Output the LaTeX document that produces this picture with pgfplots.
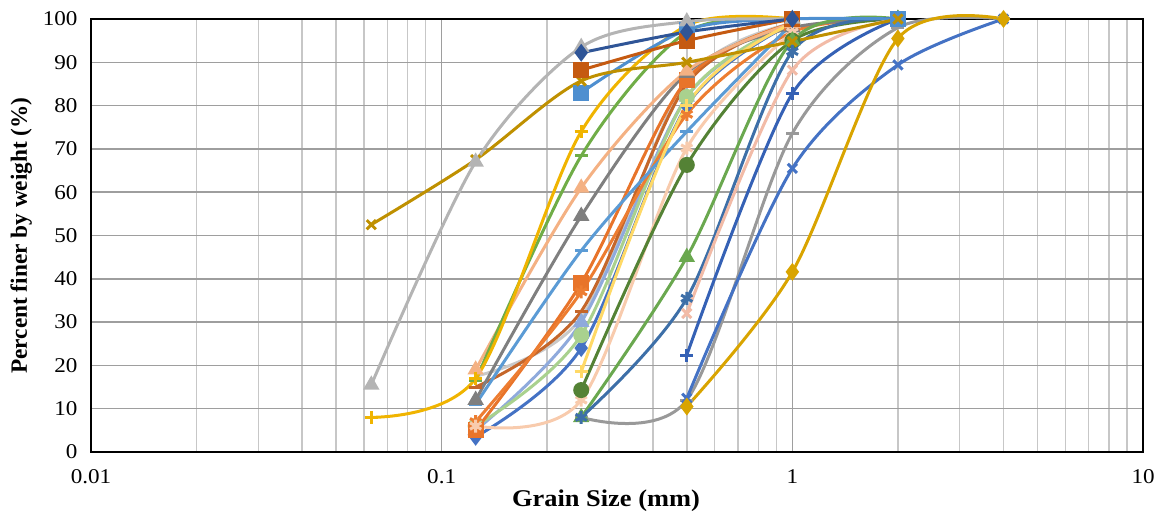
\documentclass[border=0pt]{standalone}
\usepackage{pgfplots}
\pgfplotsset{compat=1.18}
\usepackage{fontspec}
\setmainfont{Liberation Serif}
\newfontfamily\wideserif[FakeStretch=1.1]{Liberation Serif}
\definecolor{cA}{HTML}{B4B4B4}
\definecolor{cB}{HTML}{BF9000}
\definecolor{cC}{HTML}{2F5597}
\definecolor{cD}{HTML}{C55A11}
\definecolor{cE}{HTML}{4E8FD0}
\definecolor{cF}{HTML}{F0B400}
\definecolor{cG}{HTML}{70AD47}
\definecolor{cH}{HTML}{F4B183}
\definecolor{cI}{HTML}{7F7F7F}
\definecolor{cJ}{HTML}{5B9BD5}
\definecolor{cK}{HTML}{ED7D31}
\definecolor{cL}{HTML}{E8742A}
\definecolor{cM}{HTML}{C5662A}
\definecolor{cN}{HTML}{8FAADC}
\definecolor{cO}{HTML}{A9D18E}
\definecolor{cP}{HTML}{FFD966}
\definecolor{cQ}{HTML}{548235}
\definecolor{cR}{HTML}{F8CBAD}
\definecolor{cS}{HTML}{999999}
\definecolor{cT}{HTML}{6AA84F}
\definecolor{cU}{HTML}{3D6FA8}
\definecolor{cV}{HTML}{F2BBA7}
\definecolor{cW}{HTML}{3561B5}
\definecolor{cX}{HTML}{4472C4}
\definecolor{cY}{HTML}{D9A400}
\definecolor{cZ}{HTML}{4472C4}
\definecolor{cG2}{HTML}{C9C9C9}
\begin{document}
\begin{tikzpicture}
\begin{axis}[
  scale only axis, width=1052pt, height=433pt,
  xmode=log, xmin=0.01, xmax=10, ymin=0, ymax=100,
  xtick={0.01,0.1,1,10}, xticklabels={0.01,0.1,1,10},
  ytick={0,10,...,100},
  grid=both,
  major grid style={color=black!38, line width=1.5pt},
  minor grid style={color=black!22, line width=1.5pt},
  major tick length=0pt, minor tick length=0pt,
  axis line style={line width=2.8pt},
  tick label style={font=\wideserif\fontsize{21}{24}\selectfont},
  /pgf/number format/assume math mode=true,
  yticklabel style={xshift=-10pt},
  xticklabel style={yshift=-14pt},
  xlabel={\wideserif\bfseries Grain Size (mm)},
  ylabel={\bfseries Percent finer by weight (\%)},
  xlabel style={font=\wideserif\fontsize{24}{28}\selectfont\bfseries, yshift=1pt, xshift=-11pt},
  ylabel style={font=\fontsize{23.3}{27}\selectfont\bfseries, yshift=4pt},
  every axis plot/.append style={line width=3pt, smooth, tension=0.5, mark size=6.5pt},
  clip=false,
]
% light gray 2
\addplot[color=cG2, mark=none] coordinates {(0.125,17.5)(0.25,31)(0.5,86)(1,99)};
% lavender
\addplot[color=cN, mark=triangle*, mark options={fill=cN}] coordinates {(0.125,5)(0.25,30)(0.5,82)(1,99)};
% blue diamond low
\addplot[color=cZ, mark=diamond*, mark options={fill=cZ}] coordinates {(0.125,3.5)(0.25,24)(0.5,80)(1,99)};
% light green circle
\addplot[color=cO, mark=*, mark options={fill=cO}] coordinates {(0.125,6)(0.25,27)(0.5,82)(1,99)};
% brown dash
\addplot[color=cM, mark=-, mark options={solid}] coordinates {(0.125,15)(0.25,32.5)(0.5,85)(1,99)};
% orange square
\addplot[color=cL, mark=square*, mark options={fill=cL}] coordinates {(0.125,5)(0.25,39)(0.5,86)(1,99)};
% orange star
\addplot[color=cK, mark=asterisk, mark options={solid}] coordinates {(0.125,7)(0.25,37)(0.5,78)(1,97)(2,100)};
% light blue dash
\addplot[color=cJ, mark=-, mark options={solid}] coordinates {(0.125,11)(0.25,46.5)(0.5,74)(1,99)};
% dark gray triangle
\addplot[color=cI, mark=triangle*, mark options={fill=cI}] coordinates {(0.125,12)(0.25,54.5)(0.5,87.5)(1,98)(2,100)};
% salmon
\addplot[color=cH, mark=triangle*, mark options={fill=cH}] coordinates {(0.125,19)(0.25,61)(0.5,88)(1,99)};
% green dash
\addplot[color=cG, mark=-, mark options={solid}] coordinates {(0.125,16.5)(0.25,68.4)(0.5,97)(1,100)};
% gold plus
\addplot[color=cF, mark=+, mark options={solid}] coordinates {(0.063,8)(0.125,17)(0.25,74)(0.5,98.5)(1,100)};
% light gold plus
\addplot[color=cP, mark=+, mark options={solid}] coordinates {(0.25,18.5)(0.5,80)(1,99)};
% peach star
\addplot[color=cR, mark=asterisk, mark options={solid}] coordinates {(0.125,6)(0.25,12)(0.5,70.2)(1,97)};
% dark green circle
\addplot[color=cQ, mark=*, mark options={fill=cQ}] coordinates {(0.25,14.3)(0.5,66.3)(1,95)(2,100)};
% gray dash
\addplot[color=cS, mark=-, mark options={solid}] coordinates {(0.25,8)(0.5,12)(1,73.6)(2,98)(4,100)};
% green triangle
\addplot[color=cT, mark=triangle*, mark options={fill=cT}] coordinates {(0.25,8)(0.5,45)(1,95)(2,100)};
% steel blue star
\addplot[color=cU, mark=asterisk, mark options={solid}] coordinates {(0.25,8)(0.5,35.5)(1,92.5)(2,100)};
% salmon X
\addplot[color=cV, mark=x, mark options={solid}] coordinates {(0.5,32)(1,88.2)(2,100)};
% blue plus
\addplot[color=cW, mark=+, mark options={solid}] coordinates {(0.5,22.4)(1,82.8)(2,100)};
% blue X
\addplot[color=cX, mark=x, mark options={solid}] coordinates {(0.5,12.4)(1,65.5)(2,89.4)(4,100)};
% gold diamond
\addplot[color=cY, mark=diamond*, mark options={fill=cY}] coordinates {(0.5,10.5)(1,41.6)(2,95.5)(4,100)};
% blue square
\addplot[color=cE, mark=square*, mark options={fill=cE}] coordinates {(0.25,83)(0.5,97.5)(1,100)(2,100)};
% dark gold X
\addplot[color=cB, mark=x, mark options={solid}] coordinates {(0.063,52.5)(0.125,67.5)(0.25,85.7)(0.5,90)(1,94.8)(2,100)};
% brown square
\addplot[color=cD, mark=square*, mark options={fill=cD}] coordinates {(0.25,88.2)(0.5,95)(1,100)};
% light gray triangle
\addplot[color=cA, mark=triangle*, mark options={fill=cA}] coordinates {(0.063,15.5)(0.125,67)(0.25,93.5)(0.5,99.4)(1,100)};
% dark blue diamond
\addplot[color=cC, mark=diamond*, mark options={fill=cC}] coordinates {(0.25,92.2)(0.5,97)(1,100)};
\end{axis}
\pgfresetboundingbox
\path[use as bounding box] (-91pt,-61pt) rectangle (1074pt,452pt);
\end{tikzpicture}
\end{document}
